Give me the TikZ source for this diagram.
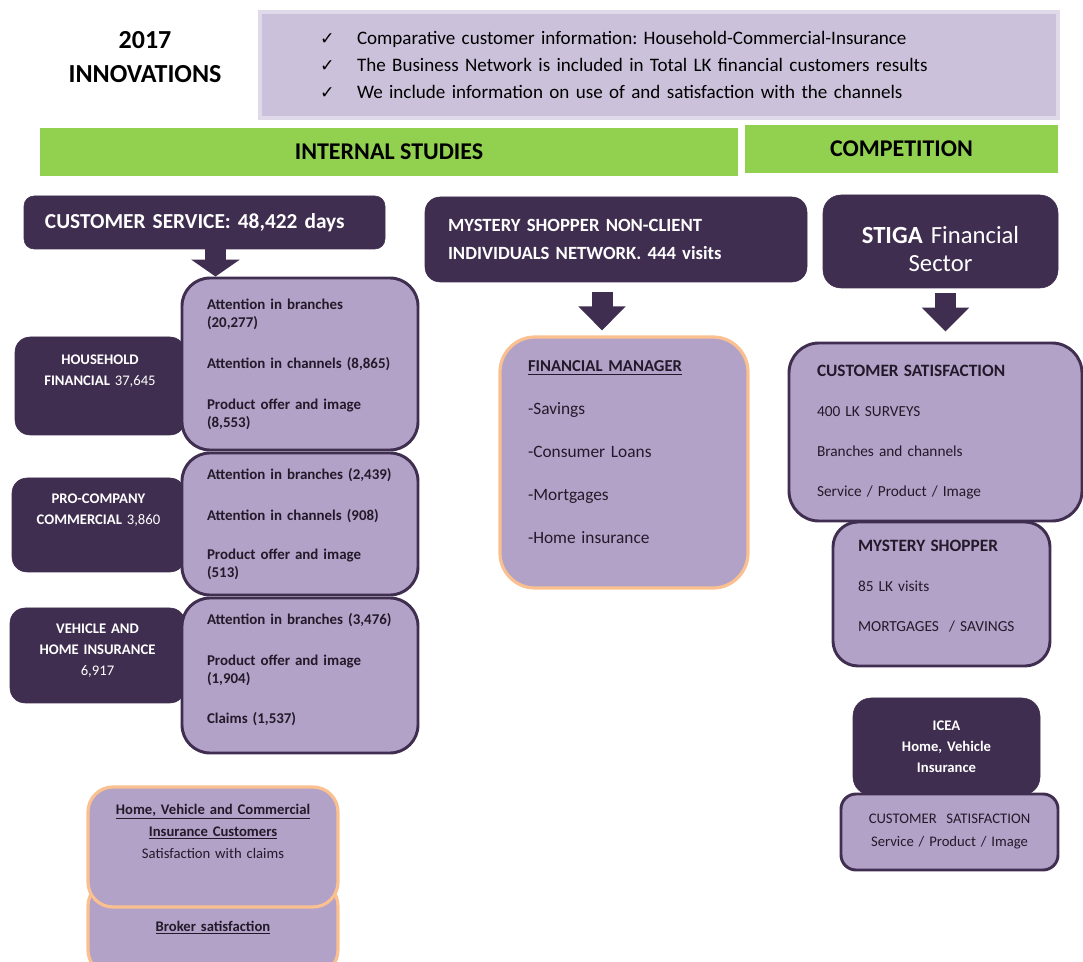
\documentclass[tikz,border=0pt]{standalone}
\usepackage{fontspec}
\setmainfont{Carlito}
\newfontfamily\dejavu{DejaVu Sans}
\usetikzlibrary{arrows.meta,positioning,calc}

\definecolor{darkplum}{HTML}{402E50}
\definecolor{lightplum}{HTML}{B3A2C7}
\definecolor{paleplum}{HTML}{CCC1DA}
\definecolor{paleedge}{HTML}{E0D9E9}
\definecolor{bargreen}{HTML}{92D050}
\definecolor{peach}{HTML}{FAC08F}
\definecolor{inkplum}{HTML}{221A2A}

\newdimen\pxu \pxu=0.75pt
\newcommand{\ck}{\makebox[37\pxu][l]{\dejavu\fontsize{13}{13}\selectfont ✓}}
\newcommand{\lowpad}[1]{\rule[-#1]{0pt}{#1}}

\begin{document}
\begin{tikzpicture}[x=0.75pt,y=-0.75pt,
    darkbox/.style={fill=darkplum,draw=darkplum,text=white,inner ysep=0pt},
    lightbox/.style={fill=lightplum,draw=darkplum,line width=2.2pt,text=inkplum,inner ysep=0pt},
    peachbox/.style={fill=lightplum,draw=peach,line width=2.4pt,text=inkplum,inner ysep=0pt},
    greenbar/.style={fill=bargreen,text=black,font=\fontsize{18}{20}\selectfont\bfseries},
    blockarrow/.style={darkplum,line width=15.75pt,-{Triangle[width=34.5pt,length=18pt]}}]
            \useasboundingbox (0,0) rectangle (1083,962);

            % Header
            \node[align=center,font=\fontsize{19.5}{26}\selectfont\bfseries] (year) at (145,57) {2017\\INNOVATIONS};
            \node[fill=paleplum,draw=paleedge,line width=2.5pt,minimum width=798\pxu,minimum height=106\pxu,text width=678\pxu,inner xsep=60\pxu,align=left,font=\fontsize{14.3}{20.25}\selectfont] (news) at (659,65) {\ck Comparative customer information:\ Household-Commercial-Insurance\\ \ck The Business Network is included in Total LK financial customers results\\ \ck We include\ information\ on use of and satisfaction with the channels};

            % Green bars
            \node[greenbar,minimum width=698\pxu,minimum height=48\pxu] (internal) at (389,152) {INTERNAL STUDIES};
            \node[greenbar,minimum width=313\pxu,minimum height=48\pxu] (competition) at (901.5,149) {COMPETITION};

            % Top dark boxes
            \node[darkbox,rounded corners=10\pxu,minimum width=361\pxu,minimum height=53\pxu,text width=319\pxu,inner xsep=21\pxu,align=left,font=\fontsize{16}{19}\selectfont\bfseries] (cs) at (204.5,222.5) {CUSTOMER SERVICE: 48,422 days};
            \node[darkbox,rounded corners=15\pxu,minimum width=382\pxu,minimum height=85\pxu,text width=336\pxu,inner xsep=23\pxu,align=left,font=\fontsize{14}{21}\selectfont\bfseries] (msn) at (616,239.5) {MYSTERY SHOPPER NON-CLIENT\\INDIVIDUALS NETWORK. 444 visits};
            \node[darkbox,rounded corners=18\pxu,minimum width=235\pxu,minimum height=93\pxu,text width=200\pxu,align=center,font=\fontsize{18.5}{21}\selectfont] (stiga) at (940.5,241.5) {\rule{0pt}{24pt}\textbf{STIGA} Financial\\Sector};

            % Left side segments
            \node[darkbox,rounded corners=15\pxu,minimum width=170\pxu,minimum height=98\pxu,text width=150\pxu,align=center,font=\fontsize{11}{15.75}\selectfont\bfseries] (hhd) at (100,386) {HOUSEHOLD\\FINANCIAL \mdseries 37,645\lowpad{24pt}};
            \node[darkbox,rounded corners=15\pxu,minimum width=173\pxu,minimum height=94\pxu,text width=153\pxu,align=center,font=\fontsize{11}{15.75}\selectfont\bfseries] (prod) at (98.5,525) {PRO-COMPANY\\COMMERCIAL \mdseries 3,860\lowpad{24pt}};
            \node[darkbox,rounded corners=15\pxu,minimum width=175\pxu,minimum height=95\pxu,text width=155\pxu,align=center,font=\fontsize{11}{15.75}\selectfont\bfseries] (vhd) at (97.5,655.5) {VEHICLE AND\\HOME INSURANCE\\\mdseries 6,917\lowpad{8pt}};

            % Left side studies
            \node[lightbox,rounded corners=28\pxu,minimum width=236\pxu,minimum height=172\pxu,text width=186\pxu,inner xsep=25\pxu,align=left,font=\fontsize{11.2}{13.5}\selectfont\bfseries] (hhl) at (300,364) {Attention in branches\\(20,277)\\[17.25pt]Attention in channels (8,865)\\[17.25pt]Product offer and image\\(8,553)};
            \node[lightbox,rounded corners=28\pxu,minimum width=236\pxu,minimum height=142\pxu,text width=186\pxu,inner xsep=25\pxu,align=left,font=\fontsize{11.2}{13.5}\selectfont\bfseries] (prol) at (300,524) {Attention in branches (2,439)\\[17.25pt]Attention in channels (908)\\[15.75pt]Product offer and image\\(513)};
            \node[lightbox,rounded corners=28\pxu,minimum width=236\pxu,minimum height=155\pxu,text width=186\pxu,inner xsep=25\pxu,align=left,font=\fontsize{11.2}{13.5}\selectfont\bfseries] (vhl) at (300,675.5) {Attention in branches (3,476)\\[17.25pt]Product offer and image\\(1,904)\\[16.5pt]Claims (1,537)\lowpad{11pt}};

            % Middle study
            \node[peachbox,rounded corners=35\pxu,minimum width=248\pxu,minimum height=251\pxu,text width=192\pxu,inner xsep=28\pxu,align=left,font=\fontsize{13}{32.25}\selectfont] (fm) at (624,462.5) {{\fontsize{12.5}{32.25}\selectfont\bfseries\underline{FINANCIAL MANAGER}}\\-Savings\\-Consumer Loans\\-Mortgages\\-Home insurance\lowpad{15pt}};

            % Right side studies
            \node[lightbox,rounded corners=30\pxu,minimum width=293\pxu,minimum height=178\pxu,text width=237\pxu,inner xsep=28\pxu,align=left,font=\fontsize{11.5}{30}\selectfont] (cs2) at (935.5,432) {{\fontsize{13}{30}\selectfont\bfseries CUSTOMER SATISFACTION}\\400 LK SURVEYS\\Branches and channels\\Service / Product / Image};
            \node[lightbox,rounded corners=25\pxu,minimum width=217\pxu,minimum height=144\pxu,text width=167\pxu,inner xsep=25\pxu,align=left,font=\fontsize{11.5}{30}\selectfont] (ms2) at (941.5,594) {{\fontsize{13}{30}\selectfont\bfseries MYSTERY SHOPPER}\\85 LK visits\\MORTGAGES\ \ / SAVINGS\lowpad{12pt}};
            \node[darkbox,rounded corners=18\pxu,minimum width=187\pxu,minimum height=97\pxu,text width=167\pxu,align=center,font=\fontsize{11}{15.75}\selectfont\bfseries] (icea) at (946.5,746.5) {ICEA\\Home, Vehicle\\Insurance};
            \node[lightbox,rounded corners=15\pxu,minimum width=217\pxu,minimum height=76\pxu,text width=197\pxu,align=center,font=\fontsize{11}{17.25}\selectfont] (iceas) at (949.5,832) {CUSTOMER\ \ SATISFACTION\\Service / Product / Image};

            % Bottom insurance boxes
            \node[peachbox,rounded corners=25\pxu,minimum width=250\pxu,minimum height=94\pxu,text width=230\pxu,align=center,font=\fontsize{11}{16.5}\selectfont\bfseries] (broker) at (213,928) {\underline{Broker satisfaction}};
            \node[peachbox,rounded corners=25\pxu,minimum width=250\pxu,minimum height=120\pxu,text width=230\pxu,align=center,font=\fontsize{11}{16.5}\selectfont\bfseries] (hvc) at (213,847) {\underline{Home, Vehicle and Commercial}\\\underline{Insurance Customers}\\\mdseries Satisfaction with claims\lowpad{24pt}};

            % ================== Block arrows ==================
            \coordinate (csFoot) at ([xshift=11\pxu]cs.south);
            \coordinate (msnFoot) at ([xshift=-14\pxu]msn.south);
            \coordinate (stigaFoot) at ([xshift=5\pxu]stiga.south);
            \draw[blockarrow,-{Triangle[width=36pt,length=12.75pt]}] (csFoot) -- (csFoot |- hhl.north);
            \draw[blockarrow,shorten <=7.5pt,shorten >=3.75pt] (msnFoot) -- (msnFoot |- fm.north);
            \draw[blockarrow,shorten <=3.75pt,shorten >=7.5pt] (stigaFoot) -- (stigaFoot |- cs2.north);
            % ==================================================

        \end{tikzpicture}
\end{document}
